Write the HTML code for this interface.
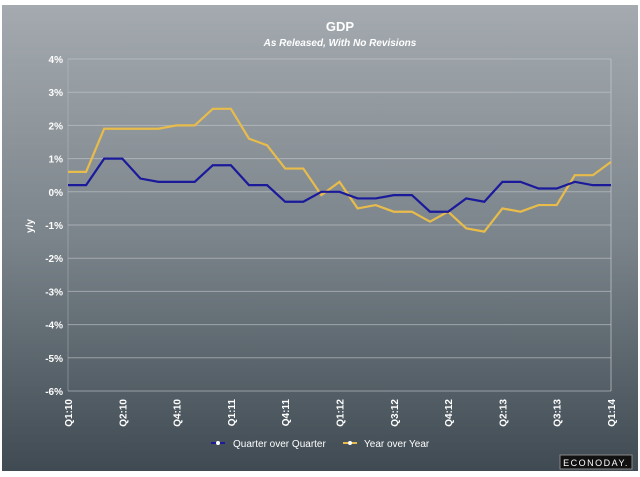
<!DOCTYPE html>
<html><head><meta charset="utf-8"><style>
body{margin:0;width:640px;height:472px;overflow:hidden;background:#fff;font-family:"Liberation Sans",sans-serif}
</style></head><body>
<svg id="c" width="640" height="472" xmlns="http://www.w3.org/2000/svg">
<defs><linearGradient id="bg" x1="0" y1="0" x2="0" y2="1">
<stop offset="0" stop-color="#a4aaaf"/><stop offset="0.5" stop-color="#7b848b"/><stop offset="1" stop-color="#3f4a52"/></linearGradient></defs>
<rect x="2" y="5" width="636" height="466" fill="url(#bg)"/>
<text x="340" y="31" fill="#fff" font-size="13" font-weight="bold" text-anchor="middle">GDP</text>
<text x="340" y="46" fill="#fff" font-size="10" font-weight="bold" font-style="italic" text-anchor="middle">As Released, With No Revisions</text>
<text transform="translate(33,226) rotate(-90)" fill="#fff" font-size="10" font-weight="bold" text-anchor="middle">y/y</text>
<g id="grid"></g><g id="lines"></g><g id="xl"></g>
<g>
<line x1="211" y1="443" x2="225" y2="443" stroke="#1a1a9a" stroke-width="2"/><circle cx="218" cy="443" r="2" fill="#fff"/>
<text x="233" y="447" fill="#fff" font-size="10">Quarter over Quarter</text>
<line x1="343" y1="443" x2="357" y2="443" stroke="#e8bc4a" stroke-width="2"/><circle cx="350" cy="443" r="2" fill="#fff"/>
<text x="364" y="447" fill="#fff" font-size="10">Year over Year</text>
</g>
<rect x="560" y="455" width="72" height="14" fill="#111" stroke="#888" stroke-width="1"/>
<text x="596" y="466" fill="#fff" font-size="9" letter-spacing="1.5" text-anchor="middle">ECONODAY.</text>
</svg>
<script>
const yTicks=[4,3,2,1,0,-1,-2,-3,-4,-5,-6];
const xLabels=["Q1:10","Q2:10","Q4:10","Q1:11","Q4:11","Q1:12","Q3:12","Q4:12","Q2:13","Q3:13","Q1:14"];
const qoq=[0.2,0.2,1.0,1.0,0.4,0.3,0.3,0.3,0.8,0.8,0.2,0.2,-0.3,-0.3,0.0,0.0,-0.2,-0.2,-0.1,-0.1,-0.6,-0.6,-0.2,-0.3,0.3,0.3,0.1,0.1,0.3,0.2,0.2];
const yoy=[0.6,0.6,1.9,1.9,1.9,1.9,2.0,2.0,2.5,2.5,1.6,1.4,0.7,0.7,-0.1,0.3,-0.5,-0.4,-0.6,-0.6,-0.9,-0.6,-1.1,-1.2,-0.5,-0.6,-0.4,-0.4,0.5,0.5,0.9];
const NS="http://www.w3.org/2000/svg";
const X0=68,X1=611,Y0=59,Y1=391;
const y=v=>Y0+(4-v)/10*(Y1-Y0);
const x=i=>X0+i*(X1-X0)/(qoq.length-1);
function mk(t,a,p){const e=document.createElementNS(NS,t);for(const k in a)e.setAttribute(k,a[k]);p.appendChild(e);return e;}
const g=document.getElementById('grid');
yTicks.forEach(v=>{
 const l=mk('line',{x1:X0,x2:X1,y1:y(v),y2:y(v),stroke:'#c4c9cd','stroke-width':1,'stroke-opacity':0.6},g);
 
 
 const t=mk('text',{x:63,y:y(v)+4,fill:'#fff','font-size':10,'font-weight':'bold','text-anchor':'end'},g);
 t.textContent=v+'%';
 
 
});
const ax=mk('line',{x1:X1,x2:X1,y1:Y0,y2:Y1,stroke:'#c4c9cd','stroke-opacity':0.7},g);


const ax2=mk('line',{x1:X0,x2:X0,y1:Y0,y2:Y1,stroke:'#c4c9cd','stroke-opacity':0.4},g);


const xl=document.getElementById('xl');
xLabels.forEach((s,i)=>{
 const px=X0+i*(X1-X0)/(xLabels.length-1);
 const t=mk('text',{transform:`translate(${px+4},399) rotate(-90)`,fill:'#fff','font-size':10,'font-weight':'bold','text-anchor':'end'},xl);
 t.textContent=s;
 
 
});
const L=document.getElementById('lines');
const p1=mk('polyline',{points:yoy.map((v,i)=>x(i)+','+y(v)).join(' '),fill:'none',stroke:'#e8bc4a','stroke-width':2.2},L);


const p2=mk('polyline',{points:qoq.map((v,i)=>x(i)+','+y(v)).join(' '),fill:'none',stroke:'#1a1a9a','stroke-width':2.2},L);


</script>
</body></html>
